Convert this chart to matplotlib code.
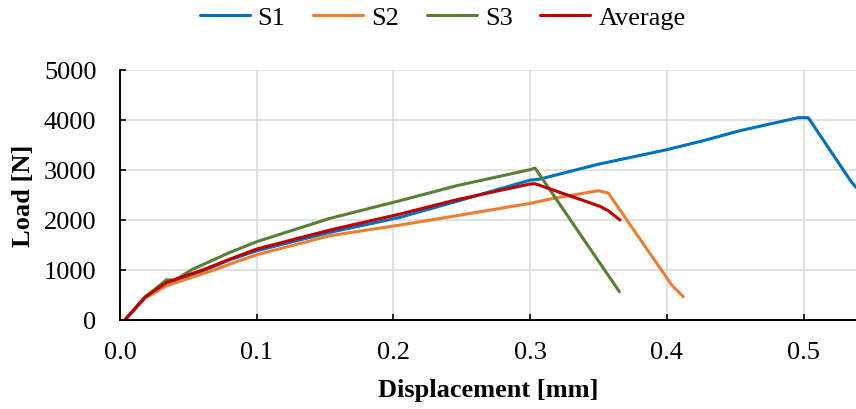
import numpy as np
import matplotlib
matplotlib.use("Agg")
import matplotlib.pyplot as plt

plt.rcParams['font.family'] = ['Liberation Serif', 'DejaVu Serif']

# Load-displacement curves
s1_x = [0.0037, 0.0183, 0.0341, 0.061, 0.0805, 0.1, 0.1536, 0.2048, 0.2463, 0.2999,
        0.3072, 0.35, 0.4, 0.4267, 0.4535, 0.4962, 0.5035, 0.5352, 0.545]
s1_y = [0, 450, 730, 980, 1200, 1380, 1747, 2047, 2367, 2790,
        2813, 3110, 3400, 3580, 3780, 4040, 4040, 2747, 2450]

s2_x = [0.0037, 0.0183, 0.0341, 0.0695, 0.0805, 0.1, 0.1536, 0.2048, 0.2463, 0.2926,
        0.3, 0.317, 0.3499, 0.3572, 0.4036, 0.4121]
s2_y = [0, 430, 680, 1000, 1113, 1300, 1680, 1893, 2080, 2293,
        2327, 2427, 2580, 2533, 693, 460]

s3_x = [0.0037, 0.0183, 0.0341, 0.0402, 0.0524, 0.0805, 0.1, 0.1536, 0.2048, 0.2463,
        0.2999, 0.3036, 0.3653]
s3_y = [0, 450, 800, 787, 1000, 1347, 1560, 2027, 2380, 2680,
        3000, 3033, 560]

avg_x = [0.0037, 0.0183, 0.0341, 0.061, 0.0805, 0.1, 0.1536, 0.2048, 0.2463, 0.2999,
         0.3036, 0.3511, 0.3572, 0.3658]
avg_y = [0, 450, 747, 1000, 1213, 1413, 1793, 2113, 2400, 2713,
         2720, 2267, 2180, 1993]

x_ticks = [0.0, 0.1, 0.2, 0.3, 0.4, 0.5]
y_ticks = [0, 1000, 2000, 3000, 4000, 5000]

fig = plt.figure(figsize=(8.56, 4.10), dpi=100)
ax = fig.add_axes([0.1402, 0.2178, 0.8598, 0.6098])

lw = 2.2
ax.plot(s1_x, s1_y, color='#0070C0', lw=lw, label='S1', solid_capstyle='round')
ax.plot(s2_x, s2_y, color='#ED7D31', lw=lw, label='S2', solid_capstyle='round')
ax.plot(s3_x, s3_y, color='#548235', lw=lw, label='S3', solid_capstyle='round')
ax.plot(avg_x, avg_y, color='#C00000', lw=lw, label='Average', solid_capstyle='round')

ax.set_xlim(0, 0.5384)
ax.set_ylim(0, 5000)
ax.set_xticks(x_ticks)
ax.set_xticklabels([f'{v:.1f}' for v in x_ticks])
ax.set_yticks(y_ticks)

ax.grid(True, color='#d9d9d9', lw=1.1)
ax.set_axisbelow(True)
for s in ['top', 'right']:
    ax.spines[s].set_visible(False)
for s in ['left', 'bottom']:
    ax.spines[s].set_linewidth(1.4)
    ax.spines[s].set_color('black')
ax.tick_params(direction='in', length=4.5, width=1.2, labelsize=19)
ax.tick_params(axis='y', pad=17)
ax.tick_params(axis='x', pad=15)

ax.set_xlabel('Displacement [mm]', fontsize=19, fontweight='bold')
ax.xaxis.set_label_coords(0.5, -0.235)
ax.set_ylabel('Load [N]', fontsize=19, fontweight='bold')
ax.yaxis.set_label_coords(-0.115, 0.5)

fig.legend(loc='center', bbox_to_anchor=(0.517, 0.956), ncol=4, frameon=False,
           fontsize=19, handlelength=1.9, handletextpad=0.3, columnspacing=1.05)

fig.savefig('out.png', dpi=100)
